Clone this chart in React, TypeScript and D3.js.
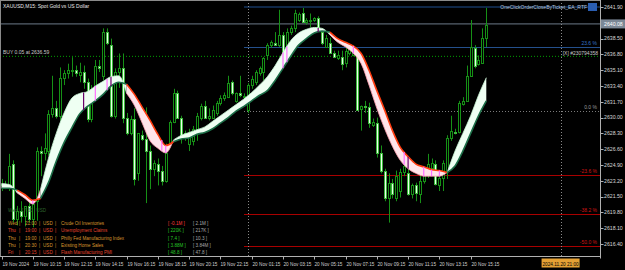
import React from "react";
import * as d3 from "d3";

// ---- Candle data (XAUUSD M15, bar 0 = 19 Nov 08:15) ----
const opens = [2622.7, 2622.9, 2622.6, 2625.0, 2619.1, 2620.0, 2619.4, 2620.5, 2619.1, 2621.0,
  2626.4, 2626.2, 2626.4, 2630.4, 2631.0, 2630.2, 2634.3, 2634.8, 2635.0, 2635.1,
  2634.6, 2634.9, 2633.8, 2629.9, 2633.1, 2635.6, 2634.5, 2639.2, 2637.8, 2630.2,
  2634.9, 2635.3, 2630.0, 2628.3, 2629.9, 2624.0, 2628.1, 2627.7, 2626.4, 2624.5,
  2625.0, 2624.3, 2623.2, 2627.3, 2629.5, 2632.6, 2630.0, 2628.3, 2627.2, 2627.5,
  2628.6, 2630.0, 2631.2, 2630.0, 2630.0, 2630.5, 2631.6, 2632.1, 2632.2, 2633.8,
  2631.8, 2632.7, 2632.2, 2630.8, 2633.5, 2633.8, 2634.8, 2634.9, 2636.7, 2637.8,
  2638.0, 2637.8, 2638.9, 2636.7, 2639.2, 2639.6, 2640.5, 2641.3, 2640.3, 2640.4,
  2640.5, 2640.7, 2639.2, 2637.6, 2638.0, 2636.9, 2636.4, 2636.5, 2635.9, 2636.9,
  2636.7, 2636.7, 2630.9, 2631.2, 2631.1, 2629.2, 2629.4, 2626.2, 2624.3, 2621.4,
  2623.0, 2621.3, 2622.1, 2624.1, 2624.0, 2621.8, 2622.7, 2621.8, 2623.2, 2624.1,
  2624.6, 2625.0, 2622.7, 2623.5, 2624.3, 2627.8, 2628.5, 2628.4, 2631.5, 2631.8,
  2634.5, 2637.5, 2635.8, 2635.9, 2638.6];
const highs = [2623.4, 2623.2, 2626.1, 2625.4, 2620.5, 2621.0, 2620.5, 2621.0, 2621.0, 2626.8,
  2626.9, 2628.3, 2630.8, 2634.5, 2631.8, 2635.4, 2635.1, 2635.8, 2636.5, 2635.6,
  2635.9, 2635.6, 2634.2, 2633.5, 2636.2, 2636.2, 2639.6, 2639.6, 2638.5, 2635.3,
  2636.9, 2636.9, 2630.5, 2630.2, 2631.0, 2628.3, 2628.6, 2631.1, 2627.0, 2625.4,
  2625.6, 2624.8, 2627.2, 2629.7, 2633.1, 2632.9, 2630.2, 2628.6, 2628.8, 2629.1,
  2630.5, 2631.5, 2631.8, 2631.0, 2631.3, 2631.8, 2632.4, 2632.7, 2634.5, 2634.0,
  2632.7, 2634.5, 2632.6, 2633.7, 2634.5, 2635.1, 2635.5, 2636.5, 2638.0, 2638.3,
  2639.2, 2641.6, 2639.2, 2639.6, 2639.9, 2641.6, 2641.3, 2641.8, 2640.7, 2641.2,
  2640.8, 2640.9, 2639.6, 2638.9, 2638.6, 2637.2, 2637.2, 2637.2, 2637.6, 2637.8,
  2637.8, 2637.2, 2631.3, 2631.8, 2631.6, 2629.9, 2630.0, 2627.0, 2624.5, 2624.0,
  2623.4, 2624.3, 2624.5, 2625.0, 2625.4, 2622.9, 2623.0, 2624.8, 2624.5, 2626.1,
  2625.6, 2625.4, 2623.7, 2625.4, 2628.1, 2630.2, 2628.8, 2631.8, 2632.2, 2635.6,
  2640.5, 2637.8, 2636.7, 2639.6, 2641.8];
const lows = [2622.1, 2622.3, 2622.1, 2618.7, 2618.4, 2618.7, 2618.3, 2618.7, 2618.2, 2618.9,
  2623.7, 2625.4, 2625.9, 2630.0, 2629.9, 2629.7, 2633.5, 2634.2, 2634.4, 2634.4,
  2633.8, 2633.1, 2629.5, 2629.5, 2632.9, 2634.9, 2634.0, 2637.8, 2630.0, 2629.9,
  2633.2, 2629.4, 2628.1, 2628.1, 2622.7, 2623.2, 2627.5, 2620.8, 2622.3, 2623.7,
  2622.7, 2622.7, 2623.0, 2627.2, 2629.4, 2630.0, 2627.2, 2627.5, 2626.4, 2627.0,
  2627.5, 2629.7, 2630.0, 2629.7, 2629.9, 2630.2, 2631.3, 2631.8, 2632.1, 2632.4,
  2631.6, 2632.2, 2631.8, 2630.5, 2633.1, 2633.5, 2634.5, 2634.0, 2636.2, 2637.5,
  2637.7, 2637.6, 2635.9, 2636.4, 2638.9, 2639.2, 2640.3, 2640.3, 2640.0, 2639.7,
  2640.3, 2639.4, 2637.8, 2637.5, 2636.9, 2636.4, 2636.2, 2635.1, 2635.4, 2636.7,
  2636.6, 2630.8, 2628.6, 2630.5, 2628.9, 2629.0, 2625.7, 2624.0, 2621.0, 2618.7,
  2621.3, 2621.0, 2621.4, 2623.7, 2621.6, 2621.3, 2621.0, 2620.8, 2622.9, 2623.5,
  2624.3, 2622.7, 2622.1, 2622.1, 2623.4, 2627.5, 2628.2, 2628.3, 2631.3, 2631.7,
  2634.4, 2635.3, 2635.6, 2635.8, 2637.6];
const closes = [2622.9, 2622.6, 2624.8, 2619.1, 2620.0, 2619.4, 2620.5, 2619.1, 2620.7, 2626.4,
  2626.2, 2626.7, 2630.4, 2631.0, 2630.2, 2634.3, 2634.8, 2635.1, 2635.1, 2634.8,
  2634.9, 2633.8, 2629.9, 2633.1, 2635.6, 2635.3, 2639.2, 2638.0, 2630.2, 2634.9,
  2635.3, 2630.0, 2628.3, 2629.9, 2623.4, 2628.3, 2627.7, 2626.4, 2624.5, 2625.1,
  2624.3, 2623.2, 2626.2, 2629.5, 2632.6, 2630.0, 2628.1, 2627.9, 2628.3, 2628.8,
  2630.2, 2631.3, 2630.0, 2630.2, 2630.8, 2631.6, 2632.1, 2632.4, 2633.7, 2632.6,
  2632.7, 2632.4, 2632.3, 2633.5, 2634.2, 2634.9, 2635.3, 2636.4, 2637.8, 2638.1,
  2637.8, 2638.9, 2636.7, 2639.2, 2639.6, 2641.3, 2641.2, 2640.3, 2640.5, 2640.5,
  2640.7, 2639.7, 2638.0, 2638.6, 2636.9, 2636.5, 2636.7, 2635.8, 2637.2, 2637.6,
  2637.5, 2630.8, 2631.2, 2631.1, 2629.4, 2629.5, 2626.2, 2624.3, 2621.4, 2623.0,
  2621.8, 2623.7, 2624.1, 2624.8, 2621.8, 2622.7, 2621.9, 2623.2, 2624.1, 2625.0,
  2625.1, 2622.9, 2623.5, 2625.1, 2627.8, 2628.6, 2628.3, 2631.6, 2631.8, 2634.5,
  2637.6, 2635.6, 2636.2, 2638.6, 2640.0];

// ---- Ribbon indicator, read every 2nd bar ----
const bandFast = [2622.9, 2622.8, 2621.9, 2621.3, 2620.7, 2622.3, 2625.6, 2628.3, 2630.5, 2632.1,
  2632.6, 2632.8, 2633.4, 2633.9, 2634.4, 2634.5, 2632.6, 2631.3, 2629.4, 2627.5,
  2626.7, 2626.2, 2627.6, 2628.1, 2628.4, 2628.7, 2629.0, 2629.6, 2630.2, 2630.8,
  2631.4, 2632.0, 2632.7, 2633.5, 2634.4, 2635.6, 2637.0, 2638.3, 2639.1, 2639.5,
  2639.7, 2639.6, 2638.9, 2638.1, 2637.6, 2636.9, 2635.8, 2633.5, 2631.0, 2628.8,
  2626.9, 2625.4, 2624.5, 2624.0, 2623.7, 2623.7, 2623.7, 2624.1, 2626.4, 2628.3,
  2630.2, 2632.4, 2634.3];
const bandSlow = [2622.4, 2622.4, 2622.2, 2621.7, 2621.1, 2621.3, 2623.0, 2625.3, 2627.3, 2628.9,
  2630.4, 2631.2, 2631.8, 2632.5, 2633.4, 2633.8, 2633.6, 2632.5, 2631.1, 2629.7,
  2628.2, 2627.0, 2627.4, 2627.7, 2627.8, 2628.2, 2628.4, 2628.8, 2629.4, 2630.0,
  2630.7, 2631.2, 2631.8, 2632.4, 2632.9, 2634.0, 2635.3, 2636.6, 2637.8, 2638.5,
  2639.1, 2639.3, 2639.2, 2638.5, 2638.1, 2637.7, 2636.9, 2635.1, 2632.9, 2630.8,
  2628.6, 2626.8, 2625.8, 2625.0, 2624.7, 2624.4, 2624.3, 2624.1, 2624.8, 2626.4,
  2628.3, 2630.2, 2631.8];
const signalBars = [8, 21, 24, 27, 28, 41, 42, 72, 73, 81, 90, 103, 104, 108, 110, 112];
const signalDark = [false, true, false, false, true, false, false, false, false, true, false, false, true, false, false, false];

// ---- Axes ----
const priceTicks = [2641.90, 2640.20, 2638.50, 2636.80, 2635.10, 2633.40, 2631.70, 2630.00,
  2628.30, 2626.60, 2624.90, 2623.20, 2621.50, 2619.80, 2618.10, 2616.40];
const timeLabels = ["19 Nov 2024", "19 Nov 10:15", "19 Nov 12:15", "19 Nov 14:15", "19 Nov 16:15",
  "19 Nov 18:15", "19 Nov 20:15", "19 Nov 22:15", "20 Nov 01:15", "20 Nov 03:15", "20 Nov 05:15",
  "20 Nov 07:15", "20 Nov 09:15", "20 Nov 11:15", "20 Nov 13:15", "20 Nov 15:15"];
const timeLabelBars = [0, 8, 16, 24, 32, 40, 48, 56, 64, 72, 80, 88, 96, 104, 112, 120];

// ---- Objects ----
const bidPrice = 2640.08;
const buyPrice = 2636.59;
const eaLinePrice = 2641.9;
const fibZero = 2630.71;
const fibRange = 29.05;
const fibRatios = [0.236, 0, -0.236, -0.382, -0.5];
const fibLabels = ["23.6 %", "0.0 %", "-23.6 %", "-38.2 %", "-50.0 %"];
const separatorBar = 63;
const cursorBar = 143;

// ---- News table ----
const eventDays = ["Wed", "Thu", "Thu", "Thu", "Fri"];
const eventTimes = ["21:00", "19:00", "19:00", "20:30", "20:15"];
const eventNames = ["Crude Oil Inventories", "Unemployment Claims", "Philly Fed Manufacturing Index",
  "Existing Home Sales", "Flash Manufacturing PMI"];
const eventActual = ["-0.1M", "220K", "7.4", "3.88M", "48.8"];
const eventForecast = ["2.1M", "217K", "10.3", "3.84M", "47.8"];
const eventHigh = [false, true, false, false, true];
const eventActualUp = [false, true, true, true, true];

const FONT = "'Liberation Sans', Arial, sans-serif";

export default function App() {
  const x = d3.scaleLinear().domain([0, 124]).range([1.5, 486.3]);
  const y = d3.scaleLinear().domain([2616.4, 2641.9]).range([244, 7]);
  const R = 600.5;
  const B = 256.5;

  // ribbon runs
  const pts = bandFast.map((f, j) => ({ bar: j * 2, f, s: bandSlow[j] }));
  const isUp = (p: { f: number; s: number }) => p.f >= p.s;
  const runs: { up: boolean; pts: typeof pts }[] = [];
  let start = 0;
  for (let j = 1; j <= pts.length; j++) {
    if (j === pts.length || isUp(pts[j]) !== isUp(pts[start])) {
      runs.push({ up: isUp(pts[start]), pts: pts.slice(start, Math.min(j + 1, pts.length)) });
      start = j;
    }
  }
  const area = d3.area<{ bar: number; f: number; s: number }>()
    .x((d) => x(d.bar)).y0((d) => y(d.f)).y1((d) => y(d.s)).curve(d3.curveMonotoneX);
  const lineSlow = d3.line<{ bar: number; f: number; s: number }>()
    .x((d) => x(d.bar)).y((d) => y(d.s)).curve(d3.curveMonotoneX);
  const lineFast = d3.line<{ bar: number; f: number; s: number }>()
    .x((d) => x(d.bar)).y((d) => y(d.f)).curve(d3.curveMonotoneX);

  const bandAt = (bar: number) => {
    const j0 = Math.floor(bar / 2);
    const j1 = Math.min(Math.ceil(bar / 2), pts.length - 1);
    return { f: (pts[j0].f + pts[j1].f) / 2, s: (pts[j0].s + pts[j1].s) / 2 };
  };

  const wick = "#169016";

  return (
    <svg width={625} height={270} style={{ position: "absolute", left: 0, top: 0, display: "block" }} fontFamily={FONT}>
      <rect x={0} y={0} width={625} height={270} fill="#000" />

      {/* horizontal objects */}
      <line x1={0} x2={R} y1={y(bidPrice)} y2={y(bidPrice)} stroke="#6c7a8a" strokeWidth={1} />
      <line x1={0} x2={R} y1={y(buyPrice)} y2={y(buyPrice)} stroke="#00a000" strokeWidth={1} strokeDasharray="1 2" />
      <line x1={244} x2={R} y1={y(eaLinePrice)} y2={y(eaLinePrice)} stroke="#1f4f8f" strokeWidth={1} />
      {fibRatios.map((r, k) => {
        const yy = Math.round(y(fibZero + r * fibRange)) + 0.5;
        const col = r > 0 ? "#24508c" : r === 0 ? "#7a7a7a" : "#a80000";
        return (
          <line key={k} x1={244} x2={R} y1={yy} y2={yy} stroke={col} strokeWidth={1}
            strokeDasharray={r === 0 ? "1 2" : undefined} />
        );
      })}
      <line x1={Math.round(x(separatorBar)) + 0.5} x2={Math.round(x(separatorBar)) + 0.5} y1={0} y2={B}
        stroke="#8a8a8a" strokeDasharray="1 2" />
      <line x1={Math.round(x(cursorBar)) + 0.5} x2={Math.round(x(cursorBar)) + 0.5} y1={0} y2={B}
        stroke="#8a8a8a" strokeDasharray="1 2" />

      {/* candles */}
      {opens.map((o, i) => {
        const c = closes[i];
        const px = Math.round(x(i));
        const top = Math.round(y(Math.max(o, c))) + 0.5;
        const bot = Math.round(y(Math.min(o, c))) + 0.5;
        const bull = c >= o;
        return (
          <g key={i}>
            <line x1={px + 0.5} x2={px + 0.5} y1={y(highs[i])} y2={y(lows[i])} stroke={wick} strokeWidth={1} />
            {bot - top < 1 ? (
              <line x1={px - 1} x2={px + 2} y1={top} y2={top} stroke={wick} strokeWidth={1} />
            ) : bull ? (
              <rect x={px - 0.5} y={top} width={2} height={bot - top} fill="#000" stroke={wick} strokeWidth={1} />
            ) : (
              <rect x={px - 0.5} y={top} width={2} height={bot - top} fill="#eaffea" stroke="#3bb83b" strokeWidth={1} />
            )}
          </g>
        );
      })}

      {/* ribbon */}
      {runs.map((r, k) => (
        <g key={k}>
          <path d={area(r.pts) || ""} fill={r.up ? "#effff3" : "#ffe4ea"} />
          <path d={lineFast(r.pts) || ""} fill="none" stroke={r.up ? "#c9f5d6" : "#ff9fb0"} strokeWidth={0.8} />
          <path d={lineSlow(r.pts) || ""} fill="none" stroke={r.up ? "#1d6e48" : "#ff3c10"} strokeWidth={1.6} />
        </g>
      ))}
      {signalBars.map((b, k) => {
        const v = bandAt(b);
        return (
          <line key={k} x1={x(b)} x2={x(b)} y1={y(v.f)} y2={y(v.s)}
            stroke={signalDark[k] ? "#6a006a" : "#ff70ff"} strokeWidth={1.2} />
        );
      })}

      {/* frame & axes */}
      <line x1={0.5} x2={0.5} y1={0} y2={B} stroke="#8a8a8a" />
      <line x1={0} x2={R} y1={0.5} y2={0.5} stroke="#8a8a8a" />
      <line x1={R} x2={R} y1={0} y2={B + 2} stroke="#b0b0b0" />
      <line x1={0} x2={R} y1={B} y2={B} stroke="#b0b0b0" />
      {priceTicks.map((p, k) => (
        <g key={k}>
          <line x1={R} x2={R + 3} y1={Math.round(y(p)) + 0.5} y2={Math.round(y(p)) + 0.5} stroke="#b0b0b0" />
          <text x={604} y={y(p)} dy="0.35em" fontSize={5.2} fill="#d8d8d8">{p.toFixed(2)}</text>
        </g>
      ))}
      <rect x={601} y={y(bidPrice) - 4.5} width={24} height={9} fill="#7b8796" />
      <text x={604} y={y(bidPrice)} dy="0.35em" fontSize={5.2} fill="#ffffff">{bidPrice.toFixed(2)}</text>

      {timeLabels.map((t, k) => {
        const xx = Math.round(x(timeLabelBars[k])) + 0.5;
        return (
          <g key={k}>
            <line x1={xx} x2={xx} y1={B} y2={B + 3} stroke="#b0b0b0" />
            <text x={xx} y={266} fontSize={4.7} fill="#d0d0d0">{t}</text>
          </g>
        );
      })}
      <rect x={x(cursorBar) - 19} y={258.5} width={38} height={9} fill="#e5a135" />
      <text x={x(cursorBar)} y={265.8} fontSize={4.7} fill="#000" textAnchor="middle">2024.11.20 21:00</text>

      {/* object labels */}
      {fibRatios.map((r, k) => {
        const col = r > 0 ? "#3474c8" : r === 0 ? "#9a9a9a" : "#d01515";
        return (
          <text key={k} x={597} y={y(fibZero + r * fibRange) - 1.8} fontSize={5} fill={col} textAnchor="end">{fibLabels[k]}</text>
        );
      })}
      <text x={587} y={y(eaLinePrice) + 1.5} fontSize={5} fill="#b8c4d8" textAnchor="end">OneClickOrderCloseByTicket_EA_RTF</text>
      <rect x={588} y={y(eaLinePrice) - 4} width={9} height={8} fill="#2a5db0" />
      <text x={598} y={y(buyPrice) - 1.6} fontSize={5} fill="#c8c8c8" textAnchor="end">[X] #230794358</text>
      <text x={3} y={y(buyPrice) - 2} fontSize={5} fill="#c8c8c8">{`BUY 0.05 at ${buyPrice.toFixed(2)}`}</text>
      <text x={3} y={7.5} fontSize={5} fill="#e8e8e8">XAUUSD,M15:  Spot Gold vs US Dollar</text>

      {/* news table */}
      <text x={8} y={211.5} fontSize={4.6} fill="#2d632d">Wed  |  17:30  |  USD</text>
      {eventNames.map((n, k) => {
        const yy = 225 + k * 7.3;
        const col = eventHigh[k] ? "#e0452e" : "#d8962e";
        return (
          <g key={k} fontSize={4.6}>
            <text x={8} y={yy} fill={col}>{eventDays[k]}</text>
            <text x={19} y={yy} fill={col}>|</text>
            <text x={25} y={yy} fill={col}>{eventTimes[k]}</text>
            <text x={39} y={yy} fill={col}>|</text>
            <text x={43} y={yy} fill={col}>USD</text>
            <text x={55} y={yy} fill={col}>|</text>
            <text x={61} y={yy} fill={col}>{n}</text>
            <text x={168} y={yy} fill={eventActualUp[k] ? "#27c427" : "#ff3b3b"}>{`[ ${eventActual[k]} ]`}</text>
            <text x={193} y={yy} fill="#a8a8a8">{`[ ${eventForecast[k]} ]`}</text>
          </g>
        );
      })}
    </svg>
  );
}
